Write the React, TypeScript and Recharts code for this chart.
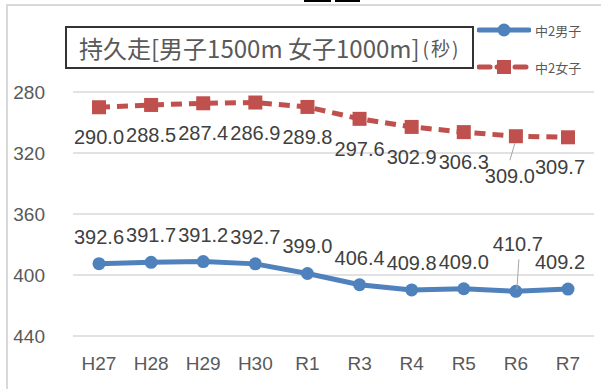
import { LineChart, Line, XAxis, YAxis, CartesianGrid, LabelList } from 'recharts'

const years = ['H27', 'H28', 'H29', 'H30', 'R1', 'R3', 'R4', 'R5', 'R6', 'R7']
const boys = [392.6, 391.7, 391.2, 392.7, 399.0, 406.4, 409.8, 409.0, 410.7, 409.2]
const girls = [290.0, 288.5, 287.4, 286.9, 289.8, 297.6, 302.9, 306.3, 309.0, 309.7]
const yTicks = [280, 320, 360, 400, 440]

const data = years.map((year, i) => ({ year, boys: boys[i], girls: girls[i] }))

const BLUE = '#4F81BD'
const RED = '#C0504D'
const TEXT = '#404040'
const FONT = '"Liberation Sans", Arial, sans-serif'
const CJK = '"Noto Sans CJK JP", sans-serif'

// label placement tweaks (Excel moved two labels by hand)
const boysShift: Record<number, [number, number]> = { 8: [2, -47], 9: [-8, -27] }
const girlsShift: Record<number, [number, number]> = { 8: [-6, 40], 9: [-8, 30] }

function makeLabel(shift: Record<number, [number, number]>, defDy: number, leader?: number) {
  return (props: any) => {
    const { x, y, value, index } = props
    const [dx, dy] = shift[index] ?? [0, defDy]
    const lx = x + dx
    const ly = y + dy
    return (
      <g key={index}>
        {index === leader && (
          dy < 0 ? (
            <line x1={lx + 1} y1={ly + 15} x2={x + 1} y2={y - 2} stroke="#a6a6a6" strokeWidth={1} />
          ) : (
            <line x1={lx} y1={ly - 16} x2={x - 1} y2={y + 7} stroke="#a6a6a6" strokeWidth={1} />
          )
        )}
        <text
          x={lx}
          y={ly}
          textAnchor="middle"
          dominantBaseline="central"
          fontSize={20}
          fontFamily={FONT}
          fill={TEXT}
        >
          {Number(value).toFixed(1)}
        </text>
      </g>
    )
  }
}

const SquareDot = (props: any) => {
  const { cx, cy, index } = props
  return <rect key={index} x={cx - 7} y={cy - 7} width={14} height={14} fill={RED} />
}

function LegendBox() {
  const row = (color: string, dashed: boolean, label: string, top: number) => (
    <div style={{ position: 'absolute', left: 0, top, display: 'flex', alignItems: 'center', height: 20 }}>
      <svg width={54} height={16}>
        <line
          x1={2}
          y1={8}
          x2={52}
          y2={8}
          stroke={color}
          strokeWidth={5}
          strokeDasharray={dashed ? '11 7' : undefined}
          strokeLinecap="round"
        />
        {dashed ? (
          <rect x={20} y={1} width={14} height={14} fill={color} />
        ) : (
          <circle cx={27} cy={8} r={6.5} fill={color} />
        )}
      </svg>
      <span style={{ marginLeft: 4, fontSize: 13, color: '#595959', fontFamily: CJK }}>{label}</span>
    </div>
  )
  return (
    <div style={{ position: 'absolute', left: 477, top: 20, width: 120, height: 60 }}>
      {row(BLUE, false, '中2男子', 0)}
      {row(RED, true, '中2女子', 37)}
    </div>
  )
}

export default function App() {
  return (
    <div style={{ position: 'absolute', left: 0, top: 0, width: 601, height: 389, overflow: 'hidden', background: '#fff' }}>
      <div style={{ position: 'absolute', left: 304, top: 0, width: 27, height: 2, background: '#000' }} />
      <div style={{ position: 'absolute', left: 335, top: 0, width: 25, height: 2, background: '#000' }} />
      <div
        style={{
          position: 'absolute',
          left: 6,
          top: 4,
          width: 620,
          height: 420,
          borderTop: '2px solid #d9d9d9',
          borderLeft: '2px solid #d9d9d9',
        }}
      />
      <LineChart
        width={601}
        height={389}
        data={data}
        margin={{ top: 92, right: 7, bottom: 23, left: 0 }}
        style={{ position: 'absolute', left: 0, top: 0 }}
      >
        <CartesianGrid vertical={false} stroke="#d9d9d9" strokeWidth={1.5} />
        <XAxis
          dataKey="year"
          height={30}
          axisLine={false}
          tickLine={false}
          tickSize={0}
          tickMargin={21}
          padding={{ left: 26, right: 26 }}
          interval={0}
          tick={{ fontSize: 19, fill: '#595959', fontFamily: FONT }}
        />
        <YAxis
          type="number"
          domain={[280, 440]}
          ticks={yTicks}
          reversed
          width={73}
          axisLine={false}
          tickLine={false}
          tickSize={0}
          tickMargin={28}
          tick={{ fontSize: 19, fill: '#595959', fontFamily: FONT }}
        />
        <Line
          dataKey="boys"
          name="中2男子"
          stroke={BLUE}
          strokeWidth={5}
          dot={{ r: 6.5, fill: BLUE, stroke: BLUE, strokeWidth: 0 }}
          isAnimationActive={false}
        >
          <LabelList dataKey="boys" content={makeLabel(boysShift, -27, 8)} />
        </Line>
        <Line
          dataKey="girls"
          name="中2女子"
          stroke={RED}
          strokeWidth={5}
          strokeDasharray="11 7"
          dot={SquareDot}
          isAnimationActive={false}
        >
          <LabelList dataKey="girls" content={makeLabel(girlsShift, 30, 8)} />
        </Line>
      </LineChart>
      <div
        style={{
          position: 'absolute',
          left: 65,
          top: 26,
          width: 393,
          height: 39,
          border: '2px solid #333',
          display: 'flex',
          alignItems: 'center',
          paddingLeft: 12,
          boxSizing: 'content-box',
          fontFamily: CJK,
          fontSize: 24,
          color: '#595959',
          whiteSpace: 'nowrap',
          background: '#fff',
        }}
      >
        持久走[男子1500m 女子1000m]
        <span style={{ fontSize: 19, marginLeft: 3, letterSpacing: 2 }}>(秒)</span>
      </div>
      <LegendBox />
    </div>
  )
}
